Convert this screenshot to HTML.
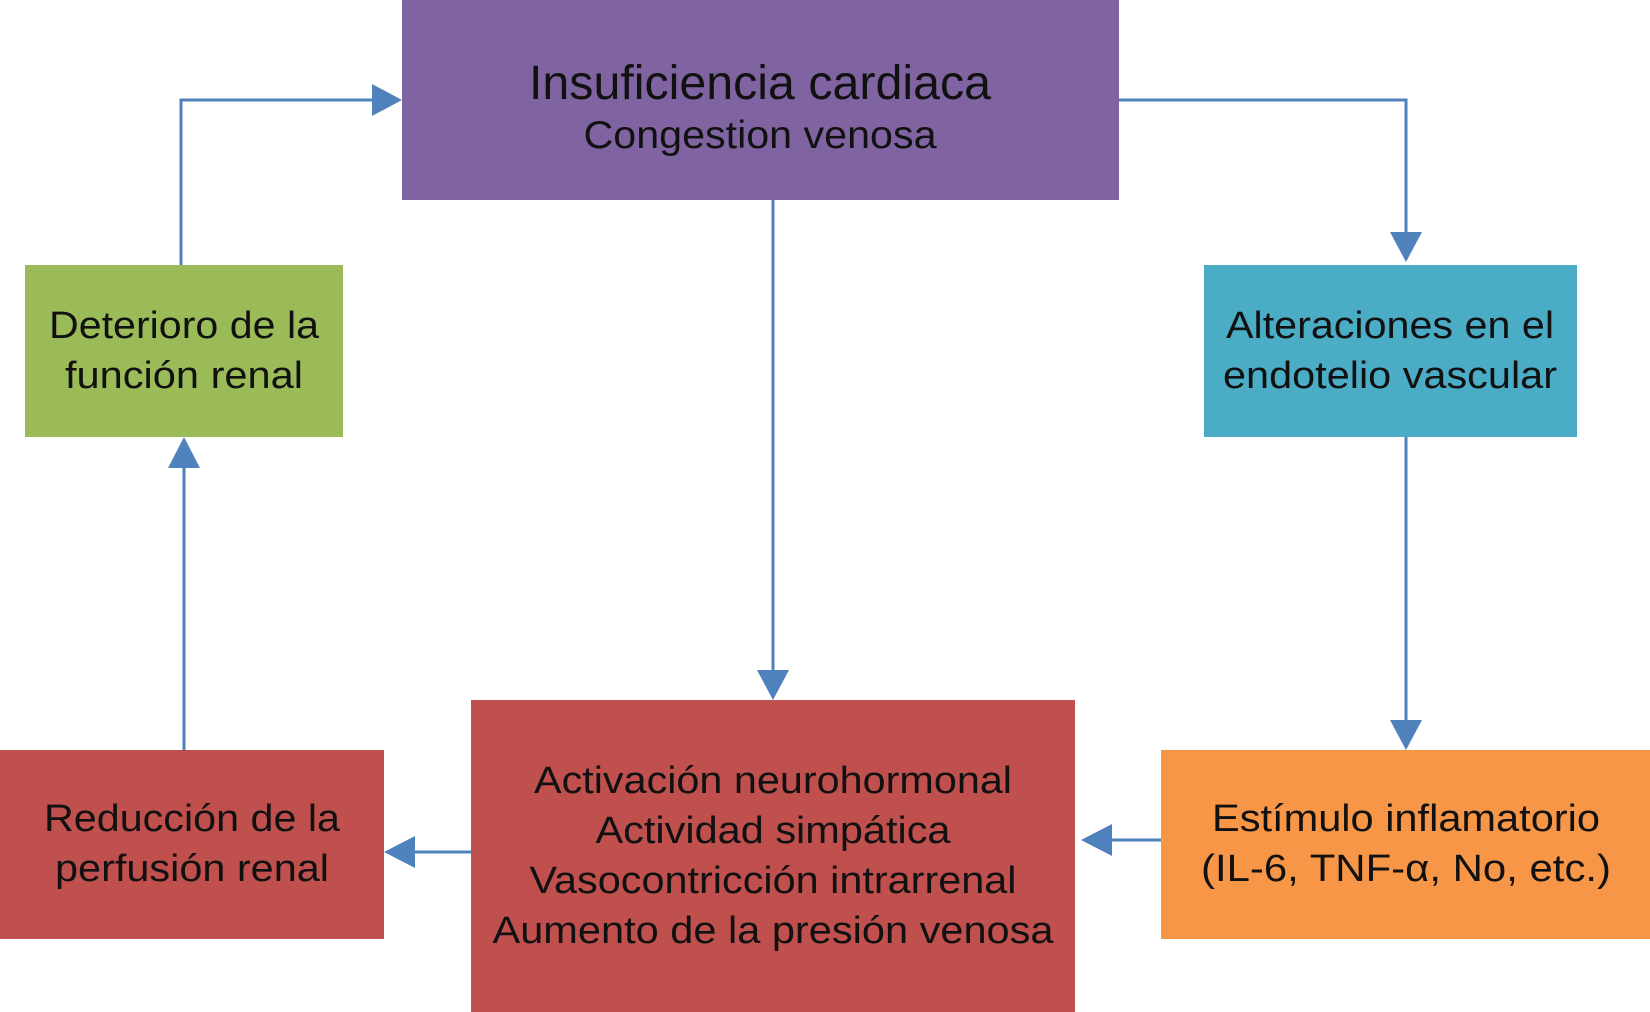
<!DOCTYPE html>
<html><head><meta charset="utf-8"><style>
html,body{margin:0;padding:0;background:#fff;}
svg{display:block;}
text{font-family:"Liberation Sans",Arial,sans-serif;fill:#111;text-anchor:middle;}
</style></head><body>
<svg width="1650" height="1012" viewBox="0 0 1650 1012" xmlns="http://www.w3.org/2000/svg">
<rect x="402" y="0" width="717" height="200" fill="#8064A2"/>
<rect x="25" y="265" width="318" height="172" fill="#9BBB59"/>
<rect x="1204" y="265" width="373" height="172" fill="#4BACC6"/>
<rect x="0" y="750" width="384" height="189" fill="#C0504D"/>
<rect x="471" y="700" width="604" height="312" fill="#C0504D"/>
<rect x="1161" y="750" width="489" height="189" fill="#F79646"/>

<g stroke="#4F81BD" stroke-width="3" fill="none">
<polyline points="181,265 181,100 376,100"/>
<polyline points="1119,100 1406,100 1406,236"/>
<line x1="773" y1="200" x2="773" y2="674"/>
<line x1="1406" y1="437" x2="1406" y2="724"/>
<line x1="1161" y1="840" x2="1108" y2="840"/>
<line x1="471" y1="852" x2="410" y2="852"/>
<line x1="184" y1="750" x2="184" y2="463"/>
</g>
<g fill="#4F81BD">
<polygon points="402,100 372,84 372,116"/>
<polygon points="1406,262 1390,232 1422,232"/>
<polygon points="773,700 757,670 789,670"/>
<polygon points="1406,750 1390,720 1422,720"/>
<polygon points="1081,840 1112,824 1112,856"/>
<polygon points="384,852 415,836 415,868"/>
<polygon points="184,437 168,468 200,468"/>
</g>

<g lengthAdjust="spacingAndGlyphs">
<text x="760" y="99" font-size="48" textLength="462" lengthAdjust="spacingAndGlyphs">Insuficiencia cardiaca</text>
<text x="760" y="148" font-size="39" textLength="353" lengthAdjust="spacingAndGlyphs">Congestion venosa</text>

<text x="184" y="338" font-size="38" textLength="270" lengthAdjust="spacingAndGlyphs">Deterioro de la</text>
<text x="184" y="388" font-size="38" textLength="238" lengthAdjust="spacingAndGlyphs">función renal</text>

<text x="1390" y="338" font-size="38" textLength="328" lengthAdjust="spacingAndGlyphs">Alteraciones en el</text>
<text x="1390" y="388" font-size="38" textLength="334" lengthAdjust="spacingAndGlyphs">endotelio vascular</text>

<text x="192" y="831" font-size="38" textLength="296" lengthAdjust="spacingAndGlyphs">Reducción de la</text>
<text x="192" y="881" font-size="38" textLength="274" lengthAdjust="spacingAndGlyphs">perfusión renal</text>

<text x="773" y="793" font-size="38" textLength="478" lengthAdjust="spacingAndGlyphs">Activación neurohormonal</text>
<text x="773" y="843" font-size="38" textLength="355" lengthAdjust="spacingAndGlyphs">Actividad simpática</text>
<text x="773" y="893" font-size="38" textLength="487" lengthAdjust="spacingAndGlyphs">Vasocontricción intrarrenal</text>
<text x="773" y="943" font-size="38" textLength="561" lengthAdjust="spacingAndGlyphs">Aumento de la presión venosa</text>

<text x="1406" y="831" font-size="38" textLength="388" lengthAdjust="spacingAndGlyphs">Estímulo inflamatorio</text>
<text x="1406" y="881" font-size="38" textLength="410" lengthAdjust="spacingAndGlyphs">(IL-6, TNF-α, No, etc.)</text>
</g>
</svg>
</body></html>
